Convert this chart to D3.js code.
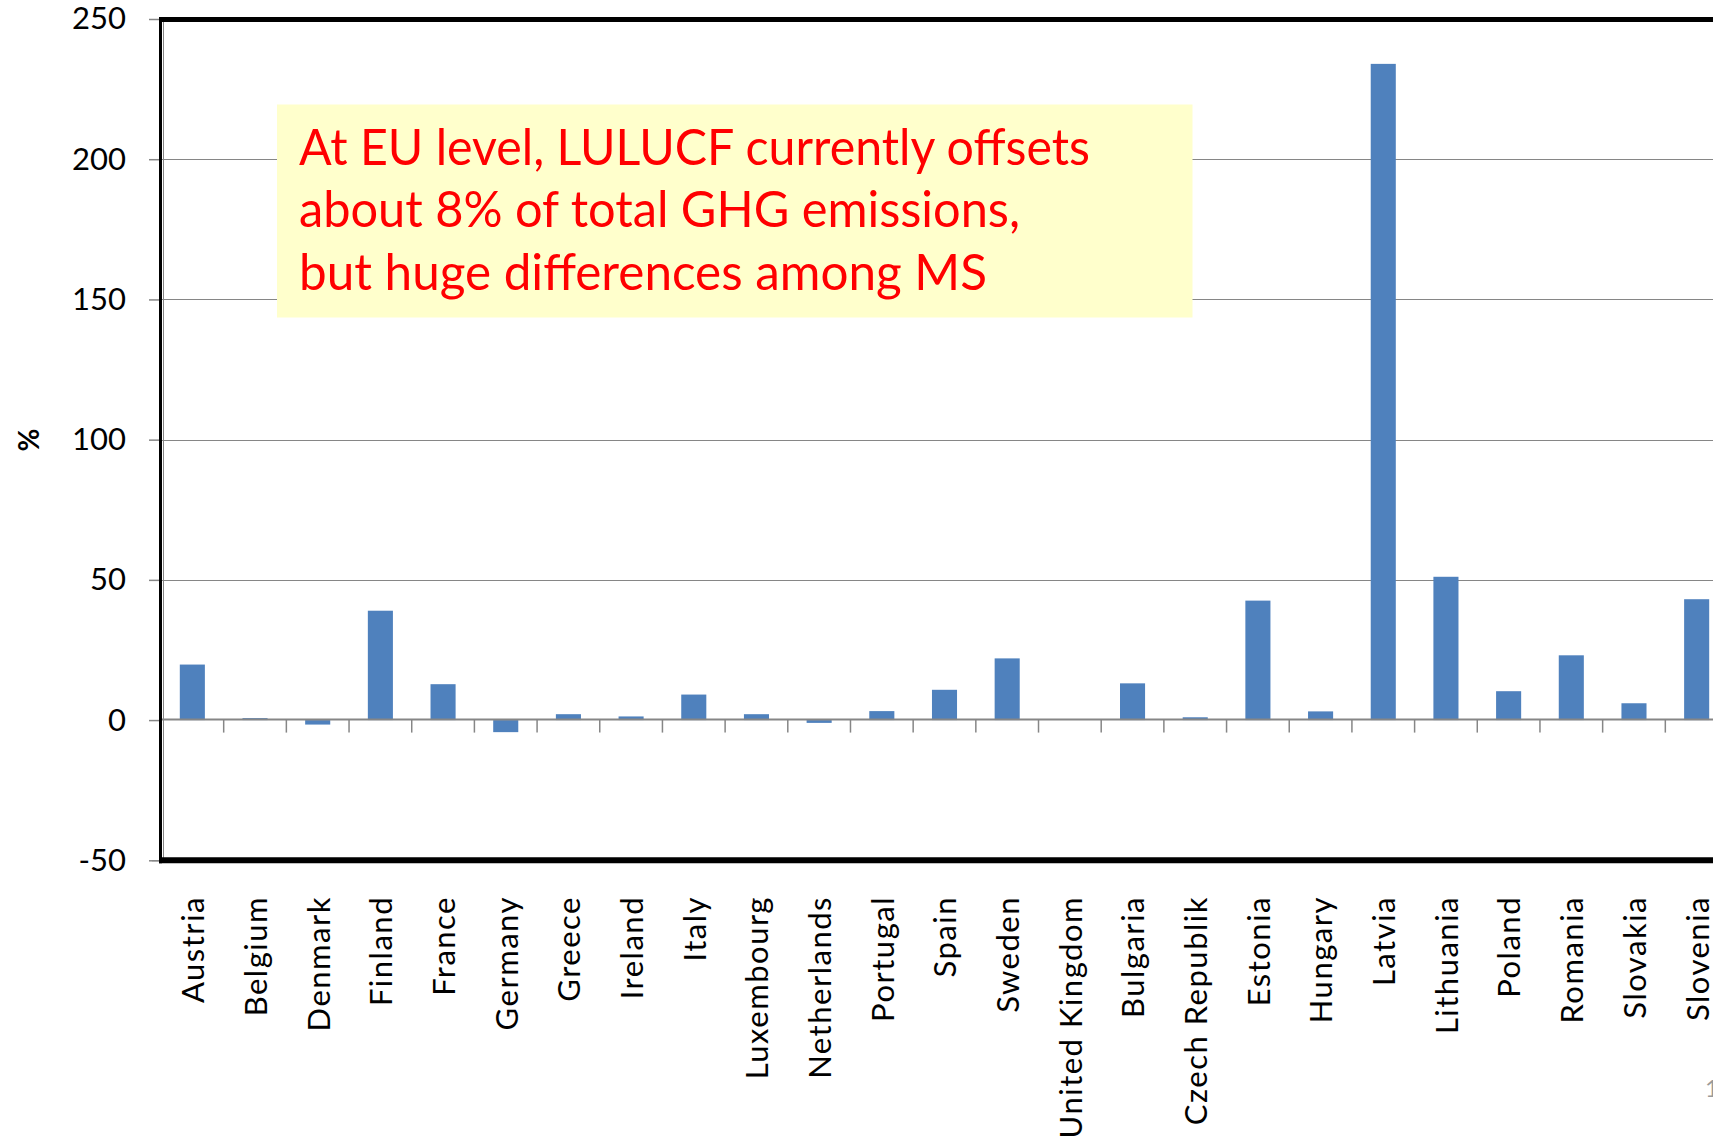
<!DOCTYPE html>
<html>
<head>
<meta charset="utf-8">
<script src="https://cdn.jsdelivr.net/npm/d3@7"></script>
<style>
  html, body { margin: 0; padding: 0; background: #fff; overflow: hidden; }
  svg { display: block; }
</style>
</head>
<body>
<svg id="chart" width="1713" height="1138"></svg>
<script>
// LULUCF removals as % of total GHG emissions, by Member State
const countries = [
  "Austria", "Belgium", "Denmark", "Finland", "France", "Germany", "Greece",
  "Ireland", "Italy", "Luxembourg", "Netherlands", "Portugal", "Spain", "Sweden",
  "United Kingdom", "Bulgaria", "Czech Republik", "Estonia", "Hungary", "Latvia",
  "Lithuania", "Poland", "Romania", "Slovakia", "Slovenia"
];
const offsetPct = [
  19.8, 0.7, -1.6, 39.0, 12.8, -4.3, 2.1,
  1.3, 9.1, 2.1, -1.0, 3.2, 10.8, 22.0,
  0, 13.1, 1.0, 42.6, 3.1, 234,
  51.1, 10.3, 23.1, 6.0, 43.1
];
const yTicks = [-50, 0, 50, 100, 150, 200, 250];
const gridValues = [50, 100, 150, 200];
const yAxisTitle = "%";
const noteLines = [
  "At EU level, LULUCF currently offsets",
  "about 8% of total GHG emissions,",
  "but huge differences among MS"
];
const pageNumber = "1";

const svg = d3.select("#chart");
const plotLeft = 161, plotRight = 1728, plotTop = 19, plotBottom = 860.3;
const axisFont = "Lato, 'Open Sans', sans-serif";

const x = d3.scaleBand()
  .domain(countries)
  .range([plotLeft, plotRight])
  .paddingInner(0.6)
  .paddingOuter(0.3);

const y = d3.scaleLinear()
  .domain([-50, 250])
  .range([plotBottom, plotTop]);

const grey = "#868686";

// horizontal gridlines
svg.append("g")
  .selectAll("line")
  .data(gridValues)
  .join("line")
  .attr("x1", plotLeft).attr("x2", plotRight)
  .attr("y1", d => Math.round(y(d)) + 0.5)
  .attr("y2", d => Math.round(y(d)) + 0.5)
  .attr("stroke", grey)
  .attr("stroke-width", 1);

// bars
svg.append("g")
  .selectAll("rect")
  .data(countries.map((c, i) => ({ c, v: offsetPct[i] })))
  .join("rect")
  .attr("x", d => x(d.c))
  .attr("width", x.bandwidth())
  .attr("y", d => Math.min(y(d.v), y(0)))
  .attr("height", d => Math.abs(y(d.v) - y(0)))
  .attr("fill", "#4F81BD");

// zero line with category separators
const zeroY = y(0) - 0.5;
svg.append("line")
  .attr("x1", plotLeft).attr("x2", plotRight)
  .attr("y1", zeroY).attr("y2", zeroY)
  .attr("stroke", grey).attr("stroke-width", 2);

svg.append("g")
  .selectAll("line")
  .data(countries.slice(1))
  .join("line")
  .attr("x1", d => x(d) - x.step() * x.paddingInner() / 2)
  .attr("x2", d => x(d) - x.step() * x.paddingInner() / 2)
  .attr("y1", zeroY).attr("y2", zeroY + 13)
  .attr("stroke", grey).attr("stroke-width", 1.5);

// y axis with tick labels (plain hyphen for negatives)
const yAxis = d3.axisLeft(y)
  .tickValues(yTicks)
  .tickFormat(d => String(d))
  .tickSize(11)
  .tickPadding(23);
const yg = svg.append("g")
  .attr("transform", `translate(${plotLeft - 1},0)`)
  .call(yAxis);
yg.select(".domain").attr("stroke", grey).attr("stroke-width", 1)
  .attr("transform", "translate(3,0)");
yg.selectAll(".tick line").attr("stroke", grey).attr("stroke-width", 1.5);
yg.selectAll(".tick text")
  .attr("font-family", axisFont)
  .attr("font-size", 31)
  .attr("fill", "#000");

// plot frame
svg.append("line").attr("x1", plotLeft - 2).attr("x2", plotRight)
  .attr("y1", plotTop + 0.5).attr("y2", plotTop + 0.5)
  .attr("stroke", "#000").attr("stroke-width", 5);
svg.append("line").attr("x1", plotLeft - 2).attr("x2", plotRight)
  .attr("y1", plotBottom).attr("y2", plotBottom)
  .attr("stroke", "#000").attr("stroke-width", 6);
svg.append("line").attr("x1", plotLeft - 0.5).attr("x2", plotLeft - 0.5)
  .attr("y1", plotTop - 2).attr("y2", plotBottom + 3)
  .attr("stroke", "#000").attr("stroke-width", 3);

// category labels
svg.append("g")
  .selectAll("text")
  .data(countries)
  .join("text")
  .attr("transform", d => `translate(${x(d) + x.bandwidth() / 2 + 1},896) rotate(-90)`)
  .attr("text-anchor", "end")
  .attr("dy", "0.35em")
  .attr("font-family", axisFont)
  .attr("font-size", 31)
  .attr("letter-spacing", "1.5px")
  .attr("fill", "#000")
  .text(d => d);

// y axis title
svg.append("text")
  .attr("transform", "translate(29,440) rotate(-90)")
  .attr("text-anchor", "middle")
  .attr("dy", "0.35em")
  .attr("font-family", axisFont)
  .attr("font-size", 28)
  .attr("font-weight", "bold")
  .attr("fill", "#000")
  .text(yAxisTitle);

// annotation box
svg.append("rect")
  .attr("x", 277).attr("y", 104.5)
  .attr("width", 915.5).attr("height", 213)
  .attr("fill", "#FFFFCC");

const noteWidths = [791, 721, 688];
const noteBaselines = [165, 227, 290];
svg.append("g")
  .selectAll("text")
  .data(noteLines)
  .join("text")
  .attr("x", 299)
  .attr("y", (d, i) => noteBaselines[i])
  .attr("textLength", (d, i) => noteWidths[i])
  .attr("lengthAdjust", "spacingAndGlyphs")
  .attr("font-family", axisFont)
  .attr("font-size", 50)
  .attr("fill", "#FF0000")
  .text(d => d);

// page number in the corner
svg.append("text")
  .attr("x", 1705).attr("y", 1097)
  .attr("font-family", axisFont)
  .attr("font-size", 24)
  .attr("fill", "#9a9a9a")
  .text(pageNumber);
</script>
</body>
</html>
